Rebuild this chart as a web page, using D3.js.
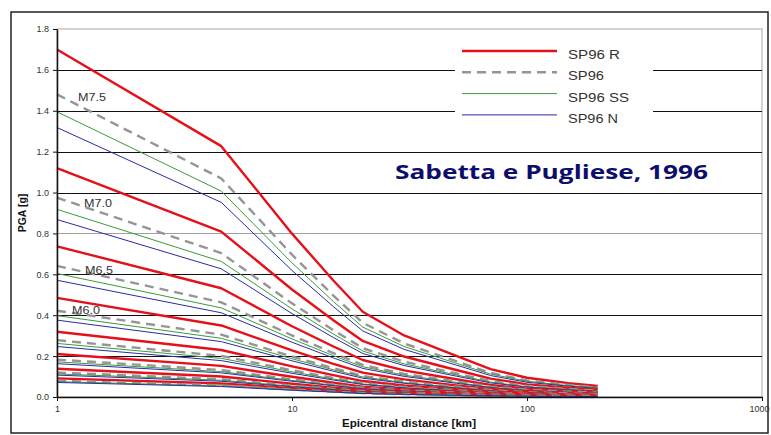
<!DOCTYPE html>
<html>
<head>
<meta charset="utf-8">
<script src="https://cdn.jsdelivr.net/npm/d3@7"></script>
<style>
  body { margin: 0; background: #fff; }
  svg { display: block; }
</style>
</head>
<body>
<svg id="chart" width="771" height="435"></svg>
<script>
// Epicentral distances (km) at which each attenuation curve is sampled
const distances = [1, 5, 10, 15, 20, 30, 50, 70, 100, 150, 200];

// Magnitudes, one curve per magnitude in every series
const magnitudes = [7.5, 7.0, 6.5, 6.0, 5.5, 5.0, 4.5, 4.0];

// PGA [g] — SP96 R (reverse)
const pgaReverse = [
  [1.700, 1.227, 0.799, 0.570, 0.417, 0.301, 0.201, 0.136, 0.094, 0.068, 0.054],
  [1.120, 0.809, 0.526, 0.375, 0.274, 0.198, 0.132, 0.090, 0.062, 0.045, 0.036],
  [0.737, 0.532, 0.346, 0.247, 0.181, 0.130, 0.087, 0.059, 0.041, 0.029, 0.024],
  [0.485, 0.350, 0.228, 0.162, 0.119, 0.086, 0.057, 0.039, 0.027, 0.019, 0.016],
  [0.319, 0.230, 0.150, 0.107, 0.078, 0.056, 0.038, 0.026, 0.018, 0.013, 0.010],
  [0.210, 0.152, 0.099, 0.070, 0.051, 0.037, 0.025, 0.017, 0.012, 0.008, 0.007],
  [0.138, 0.100, 0.065, 0.046, 0.034, 0.024, 0.016, 0.011, 0.008, 0.006, 0.004],
  [0.091, 0.066, 0.043, 0.030, 0.022, 0.016, 0.011, 0.007, 0.005, 0.004, 0.003]
];

// PGA [g] — SP96 (generic)
const pgaGeneric = [
  [1.480, 1.069, 0.696, 0.496, 0.363, 0.262, 0.175, 0.118, 0.081, 0.059, 0.047],
  [0.975, 0.704, 0.458, 0.327, 0.239, 0.173, 0.115, 0.078, 0.054, 0.039, 0.031],
  [0.641, 0.463, 0.301, 0.215, 0.157, 0.113, 0.076, 0.051, 0.035, 0.026, 0.021],
  [0.422, 0.305, 0.198, 0.141, 0.103, 0.075, 0.050, 0.034, 0.023, 0.017, 0.014],
  [0.278, 0.201, 0.131, 0.093, 0.068, 0.049, 0.033, 0.022, 0.015, 0.011, 0.009],
  [0.183, 0.132, 0.086, 0.061, 0.045, 0.032, 0.022, 0.015, 0.010, 0.007, 0.006],
  [0.120, 0.087, 0.056, 0.040, 0.029, 0.021, 0.014, 0.010, 0.007, 0.005, 0.004],
  [0.079, 0.057, 0.037, 0.026, 0.019, 0.014, 0.009, 0.006, 0.004, 0.003, 0.003]
];

// PGA [g] — SP96 SS (strike-slip)
const pgaStrikeSlip = [
  [1.395, 1.007, 0.656, 0.467, 0.342, 0.247, 0.165, 0.112, 0.077, 0.056, 0.045],
  [0.918, 0.663, 0.431, 0.308, 0.225, 0.162, 0.108, 0.073, 0.050, 0.037, 0.029],
  [0.604, 0.436, 0.284, 0.202, 0.148, 0.107, 0.071, 0.048, 0.033, 0.024, 0.019],
  [0.398, 0.287, 0.187, 0.133, 0.098, 0.070, 0.047, 0.032, 0.022, 0.016, 0.013],
  [0.262, 0.189, 0.123, 0.088, 0.064, 0.046, 0.031, 0.021, 0.014, 0.010, 0.008],
  [0.172, 0.124, 0.081, 0.058, 0.042, 0.030, 0.020, 0.014, 0.009, 0.007, 0.006],
  [0.113, 0.082, 0.053, 0.038, 0.028, 0.020, 0.013, 0.009, 0.006, 0.005, 0.004],
  [0.075, 0.054, 0.035, 0.025, 0.018, 0.013, 0.009, 0.006, 0.004, 0.003, 0.002]
];

// PGA [g] — SP96 N (normal)
const pgaNormal = [
  [1.318, 0.952, 0.619, 0.442, 0.323, 0.233, 0.156, 0.105, 0.072, 0.053, 0.042],
  [0.868, 0.627, 0.408, 0.291, 0.213, 0.154, 0.102, 0.069, 0.048, 0.035, 0.028],
  [0.571, 0.412, 0.268, 0.191, 0.140, 0.101, 0.067, 0.046, 0.031, 0.023, 0.018],
  [0.376, 0.271, 0.177, 0.126, 0.092, 0.067, 0.044, 0.030, 0.021, 0.015, 0.012],
  [0.247, 0.178, 0.116, 0.083, 0.061, 0.044, 0.029, 0.020, 0.014, 0.010, 0.008],
  [0.163, 0.118, 0.077, 0.055, 0.040, 0.029, 0.019, 0.013, 0.009, 0.007, 0.005],
  [0.107, 0.077, 0.050, 0.036, 0.026, 0.019, 0.013, 0.009, 0.006, 0.004, 0.003],
  [0.071, 0.051, 0.033, 0.024, 0.017, 0.013, 0.008, 0.006, 0.004, 0.003, 0.002]
];

const seriesNames = ["SP96 R", "SP96", "SP96 SS", "SP96 N"];
const yTicks = [0, 0.2, 0.4, 0.6, 0.8, 1.0, 1.2, 1.4, 1.6, 1.8];
const xTicks = [1, 10, 100, 1000];
const labelledMagnitudes = ["M7.5", "M7.0", "M6.5", "M6.0"];

// ---- styles ----
const seriesStyle = [
  { values: pgaReverse,    color: "#e5101a", width: 2.4, dash: null },
  { values: pgaGeneric,    color: "#959595", width: 2.4, dash: "9,6" },
  { values: pgaStrikeSlip, color: "#3c9a3c", width: 1.0, dash: null },
  { values: pgaNormal,     color: "#2b2ba6", width: 1.0, dash: null }
];
// the slide's text is stretched sideways, so the wider labels get fixed lengths
const legendTextLength = [52, 36, 61, 50];

const svg = d3.select("#chart");
const plot = { left: 57, right: 762, top: 29, bottom: 397 };

const x = d3.scaleLog().domain([1, 1000]).range([plot.left, plot.right]);
const y = d3.scaleLinear().domain([0, 1.8]).range([plot.bottom, plot.top]);

// outer frame
svg.append("rect")
  .attr("x", 11).attr("y", 12).attr("width", 757).attr("height", 421)
  .attr("fill", "#fff").attr("stroke", "#222").attr("stroke-width", 1.5);

// plot area border (top / right)
svg.append("rect")
  .attr("x", plot.left).attr("y", plot.top)
  .attr("width", plot.right - plot.left).attr("height", plot.bottom - plot.top)
  .attr("fill", "none").attr("stroke", "#a8a8a8").attr("stroke-width", 1);

// horizontal gridlines
svg.append("g").selectAll("line")
  .data(yTicks.filter(d => d > 0 && d < 1.8))
  .join("line")
  .attr("x1", plot.left).attr("x2", plot.right)
  .attr("y1", d => Math.round(y(d)) + 0.5).attr("y2", d => Math.round(y(d)) + 0.5)
  .attr("stroke", d => Math.abs(d - 0.8) < 1e-9 ? "#a0a0a0" : "#111")
  .attr("stroke-width", 1);

// curves
const line = d3.line()
  .x((d, i) => x(distances[i]))
  .y(d => y(d));

const curves = svg.append("g").attr("fill", "none")
  .attr("stroke-linejoin", "round");
magnitudes.forEach((m, mi) => {
  seriesStyle.forEach(s => {
    curves.append("path")
      .attr("d", line(s.values[mi]))
      .attr("stroke", s.color)
      .attr("stroke-width", s.width)
      .attr("stroke-dasharray", s.dash);
  });
});

// magnitude labels, set beside the start of each SP96 curve
const labelOffsets = [[21, 3], [27, 5], [28, 4], [15, -1]];
svg.append("g").selectAll("text")
  .data(labelledMagnitudes)
  .join("text")
  .attr("x", (d, i) => x(distances[0]) + labelOffsets[i][0])
  .attr("y", (d, i) => y(pgaGeneric[i][0]) + labelOffsets[i][1] + 4)
  .attr("font-family", "Liberation Sans, Arial, sans-serif")
  .attr("font-size", 11.5)
  .attr("textLength", 28)
  .attr("lengthAdjust", "spacingAndGlyphs")
  .attr("fill", "#333")
  .text(d => d);

// legend
const legend = svg.append("g");
legend.append("rect")
  .attr("x", 455).attr("y", 38).attr("width", 198).attr("height", 88)
  .attr("fill", "#fff");
const legendRow = legend.selectAll("g")
  .data(seriesNames)
  .join("g")
  .attr("transform", (d, i) => `translate(462, ${51 + i * 21.3})`);
legendRow.append("line")
  .attr("x1", 0).attr("x2", 95)
  .attr("stroke", (d, i) => seriesStyle[i].color)
  .attr("stroke-width", (d, i) => seriesStyle[i].width)
  .attr("stroke-dasharray", (d, i) => seriesStyle[i].dash);
legendRow.append("text")
  .attr("x", 106).attr("y", 8)
  .attr("font-family", "Liberation Sans, Arial, sans-serif")
  .attr("font-size", 12)
  .attr("textLength", (d, i) => legendTextLength[i])
  .attr("lengthAdjust", "spacingAndGlyphs")
  .attr("fill", "#333")
  .text(d => d);

// title
svg.append("text")
  .attr("x", 395).attr("y", 179)
  .attr("font-family", "Open Sans, Lato, sans-serif")
  .attr("font-weight", "bold")
  .attr("font-size", 20)
  .attr("textLength", 313)
  .attr("lengthAdjust", "spacingAndGlyphs")
  .attr("fill", "#0d0d6b")
  .text("Sabetta e Pugliese, 1996");

// axes
const yAxis = svg.append("g")
  .attr("transform", `translate(${plot.left},0)`)
  .call(d3.axisLeft(y).tickValues(yTicks).tickFormat(d3.format(".1f")).tickSize(4).tickSizeOuter(0));
const xAxis = svg.append("g")
  .attr("transform", `translate(0,${plot.bottom})`)
  .call(d3.axisBottom(x).tickValues(xTicks).tickFormat(d3.format("d")).tickSize(4).tickSizeOuter(0));

[yAxis, xAxis].forEach(a => {
  a.select(".domain").attr("stroke", "#111").attr("stroke-width", 1.5);
  a.selectAll(".tick line").attr("stroke", "#111");
  a.selectAll(".tick text")
    .attr("font-family", "Liberation Sans, Arial, sans-serif")
    .attr("font-size", 9)
    .attr("fill", "#333");
});
yAxis.selectAll(".tick text").attr("x", -8);
xAxis.selectAll(".tick text").attr("y", 9)
  .attr("dx", d => d === 1000 ? -3 : 0);

// axis titles
svg.append("text")
  .attr("transform", "translate(26,213) rotate(-90)")
  .attr("text-anchor", "middle")
  .attr("font-family", "Liberation Sans, Arial, sans-serif")
  .attr("font-weight", "bold")
  .attr("font-size", 10.5)
  .attr("fill", "#111")
  .text("PGA [g]");
svg.append("text")
  .attr("x", 409).attr("y", 427)
  .attr("text-anchor", "middle")
  .attr("font-family", "Liberation Sans, Arial, sans-serif")
  .attr("font-weight", "bold")
  .attr("font-size", 11)
  .attr("textLength", 134)
  .attr("lengthAdjust", "spacingAndGlyphs")
  .attr("fill", "#111")
  .text("Epicentral distance [km]");
</script>
</body>
</html>
